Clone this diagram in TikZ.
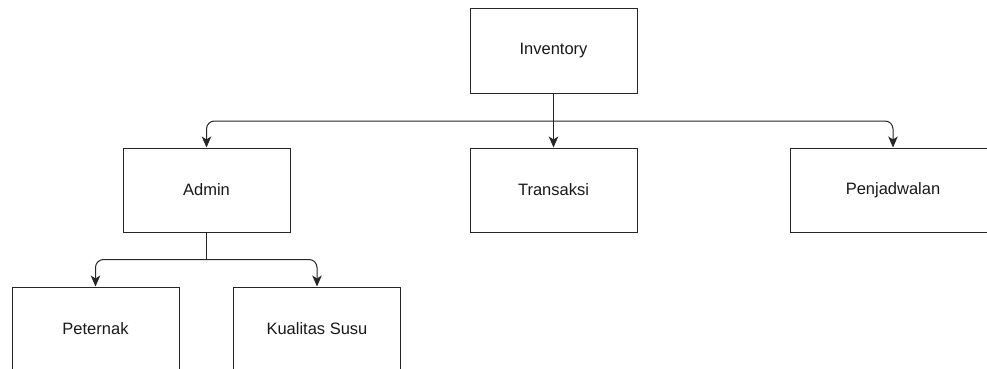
\documentclass[tikz,border=0pt]{standalone}
\usepackage{fontspec}
\setmainfont{Liberation Sans}
\usetikzlibrary{arrows.meta}
\begin{document}
\begin{tikzpicture}[x=1pt,y=-1pt,
  block/.style={draw=black!85, line width=1pt, fill=white, minimum width=167pt, minimum height=84pt, inner sep=0pt, font=\fontsize{16.5}{19}\selectfont, text=black!90},
  wire/.style={draw=black!85, line width=1pt},
  link/.style={wire, rounded corners=8pt, -{Stealth[length=11pt,width=9.5pt,inset=3pt]}}]
\useasboundingbox (0,0) rectangle (987,369);
\clip (0,0) rectangle (987,369);
\fill[white] (0,0) rectangle (987,369);

\node[block] (inv)   at (553.5,51)  {Inventory};
\node[block] (admin) at (206.5,190) {Admin};
\node[block] (trans) at (553.5,190) {Transaksi};
\node[block, minimum width=206pt] (jadwal) at (893,190) {Penjadwalan};
\node[block] (pet)   at (95.5,329)  {Peternak};
\node[block] (susu)  at (317,329)   {Kualitas Susu};

% branch points below the parent boxes
\coordinate (j1) at ([yshift=-27.5pt]inv.south);
\coordinate (j2) at ([yshift=-27pt]admin.south);

\draw[link] (inv.south) -- (trans.north);
\draw[link] (j1) -| (admin.north);
\draw[link] (j1) -| (jadwal.north);
\draw[wire] (admin.south) -- (j2);
\draw[link] (j2) -| (pet.north);
\draw[link] (j2) -| (susu.north);
\end{tikzpicture}
\end{document}
